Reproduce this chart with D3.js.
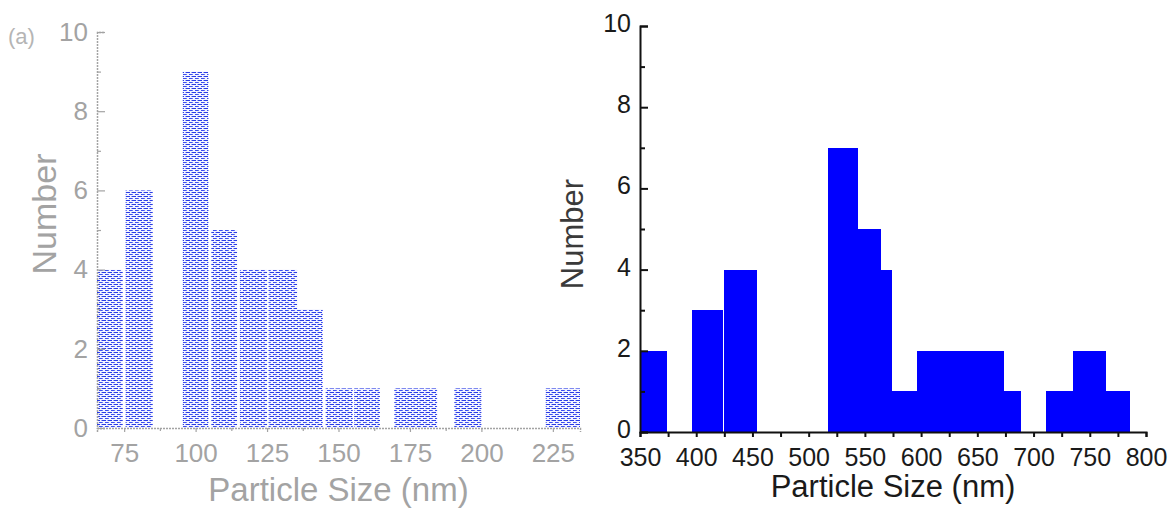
<!DOCTYPE html>
<html>
<head>
<meta charset="utf-8">
<script src="https://cdn.jsdelivr.net/npm/d3@7"></script>
<style>
  html, body { margin: 0; padding: 0; background: #fff; }
  svg { display: block; }
  text { font-family: "Liberation Sans", Arial, sans-serif; }
</style>
</head>
<body>
<svg id="chart" width="1168" height="508"></svg>
<script>
// ---- Left panel data (bins in nm, counts) ----
const leftBinStart = [65.5, 75.5, 95.5, 105.5, 115.5, 125.5, 135.5, 145.5, 155.5, 169.5, 190.5, 222.5];
const leftBinEnd   = [74.5, 85.0, 104.5, 114.5, 125.0, 135.5, 144.5, 155.0, 164.5, 184.5, 200.0, 234.5];
const leftCounts   = [4, 6, 9, 5, 4, 4, 3, 1, 1, 1, 1, 1];
const leftXTicks   = [75, 100, 125, 150, 175, 200, 225];
const leftYTicks   = [0, 2, 4, 6, 8, 10];

// ---- Right panel data ----
const rightBinStart = [350, 396, 425, 517, 544, 564, 574, 596, 624, 650, 674, 711, 735, 764];
const rightBinEnd   = [374, 424, 454, 544, 564, 574, 596, 624, 650, 674, 689, 735, 764, 786];
const rightCounts   = [2, 3, 4, 7, 5, 4, 1, 2, 2, 2, 1, 1, 2, 1];
const rightXTicks   = [350, 400, 450, 500, 550, 600, 650, 700, 750, 800];
const rightYTicks   = [0, 2, 4, 6, 8, 10];

const xLabel = "Particle Size (nm)";
const yLabel = "Number";

const svg = d3.select("#chart");

// pattern for the faded, dotted left bars
const defs = svg.append("defs");
const pat = defs.append("pattern").attr("id", "dots")
  .attr("width", 6).attr("height", 4).attr("patternUnits", "userSpaceOnUse");
pat.append("rect").attr("width", 6).attr("height", 4).attr("fill", "#f4f5ff");
pat.append("rect").attr("x", 0).attr("y", 0).attr("width", 4).attr("height", 1).attr("fill", "#2a3ce6");
pat.append("rect").attr("x", 3).attr("y", 2).attr("width", 3).attr("height", 1).attr("fill", "#3b4cf0");
pat.append("rect").attr("x", 0).attr("y", 2).attr("width", 1).attr("height", 1).attr("fill", "#6d7af2");
pat.append("rect").attr("x", 5).attr("y", 0).attr("width", 1).attr("height", 1).attr("fill", "#9aa3f5");

// ================= LEFT PANEL =================
const grayL = "#a3a3a3";
const xL = d3.scaleLinear().domain([65.5, 234.5]).range([97, 580]);
const yL = d3.scaleLinear().domain([0, 10]).range([428, 32]);

const gL = svg.append("g");
gL.selectAll("rect.lbar").data(leftCounts).join("rect")
  .attr("class", "lbar")
  .attr("x", (d, i) => xL(leftBinStart[i]))
  .attr("width", (d, i) => xL(leftBinEnd[i]) - xL(leftBinStart[i]))
  .attr("y", d => yL(d))
  .attr("height", d => yL(0) - yL(d))
  .attr("fill", "url(#dots)");

const axLy = gL.append("g").attr("transform", `translate(${xL.range()[0]},0)`)
  .call(d3.axisLeft(yL).tickValues(leftYTicks).tickSize(-8).tickPadding(9).tickFormat(d3.format("d")));
const axLyMinor = gL.append("g").attr("transform", `translate(${xL.range()[0]},0)`)
  .call(d3.axisLeft(yL).tickValues([1, 3, 5, 7, 9]).tickSize(-4).tickFormat(""));
const axLx = gL.append("g").attr("transform", `translate(0,${yL(0)})`)
  .call(d3.axisBottom(xL).tickValues(leftXTicks).tickSize(4).tickPadding(12));
const axLxMinor = gL.append("g").attr("transform", `translate(0,${yL(0)})`)
  .call(d3.axisBottom(xL).tickValues(d3.range(87.5, 235, 25)).tickSize(3).tickFormat(""));

[axLy, axLyMinor, axLx, axLxMinor].forEach(a => {
  a.select(".domain").attr("stroke", grayL).attr("stroke-width", 1.5).attr("stroke-dasharray", "2,1");
  a.selectAll(".tick line").attr("stroke", grayL).attr("stroke-width", 1.2);
  a.selectAll("text").attr("fill", grayL).attr("font-size", 26)
    .attr("font-family", "'Liberation Sans', Arial, sans-serif");
});
axLyMinor.select(".domain").remove();
axLxMinor.select(".domain").remove();

gL.append("text").attr("x", xL(150)).attr("y", 501).attr("text-anchor", "middle")
  .attr("font-size", 33).attr("fill", grayL).text(xLabel);
gL.append("text").attr("transform", "translate(56,214) rotate(-90)").attr("text-anchor", "middle")
  .attr("font-size", 34).attr("fill", grayL).text(yLabel);
gL.append("text").attr("x", 8).attr("y", 44).attr("font-size", 22).attr("fill", "#b5b5b5").text("(a)");

// ================= RIGHT PANEL =================
const xR = d3.scaleLinear().domain([350, 800]).range([640, 1146]);
const yR = d3.scaleLinear().domain([0, 10]).range([432, 26]);

const gR = svg.append("g");
gR.selectAll("rect.rbar").data(rightCounts).join("rect")
  .attr("class", "rbar")
  .attr("x", (d, i) => xR(rightBinStart[i]))
  .attr("width", (d, i) => xR(rightBinEnd[i]) - xR(rightBinStart[i]))
  .attr("y", d => yR(d))
  .attr("height", d => yR(0) - yR(d))
  .attr("fill", "#0000ff")
  .attr("shape-rendering", "crispEdges");

const axRy = gR.append("g").attr("transform", `translate(${xR.range()[0]},0)`)
  .call(d3.axisLeft(yR).tickValues(rightYTicks).tickSize(-8).tickPadding(9).tickFormat(d3.format("d")));
const axRyMinor = gR.append("g").attr("transform", `translate(${xR.range()[0]},0)`)
  .call(d3.axisLeft(yR).tickValues([1, 3, 5, 7, 9]).tickSize(-5).tickFormat(""));
const axRx = gR.append("g").attr("transform", `translate(0,${yR(0)})`)
  .call(d3.axisBottom(xR).tickValues(rightXTicks).tickSize(5).tickPadding(11));
const axRxMinor = gR.append("g").attr("transform", `translate(0,${yR(0)})`)
  .call(d3.axisBottom(xR).tickValues(d3.range(375, 800, 50)).tickSize(5).tickFormat(""));

[axRy, axRyMinor, axRx, axRxMinor].forEach(a => {
  a.select(".domain").attr("stroke", "#111").attr("stroke-width", 2);
  a.selectAll(".tick line").attr("stroke", "#111").attr("stroke-width", 2);
  a.selectAll("text").attr("fill", "#1a1a1a").attr("font-size", 25)
    .attr("font-family", "'Liberation Sans', Arial, sans-serif");
});
// lift the y-axis labels slightly so "0" clears the "350" below it
axRy.selectAll(".tick text").attr("dy", "0.22em");
axRyMinor.select(".domain").remove();
axRxMinor.select(".domain").remove();

gR.append("text").attr("x", xR(575)).attr("y", 497).attr("text-anchor", "middle")
  .attr("font-size", 31).attr("fill", "#1a1a1a").text(xLabel);
gR.append("text").attr("transform", "translate(583,234) rotate(-90)").attr("text-anchor", "middle")
  .attr("font-size", 31).attr("fill", "#3a3a3a").text(yLabel);
</script>
</body>
</html>
